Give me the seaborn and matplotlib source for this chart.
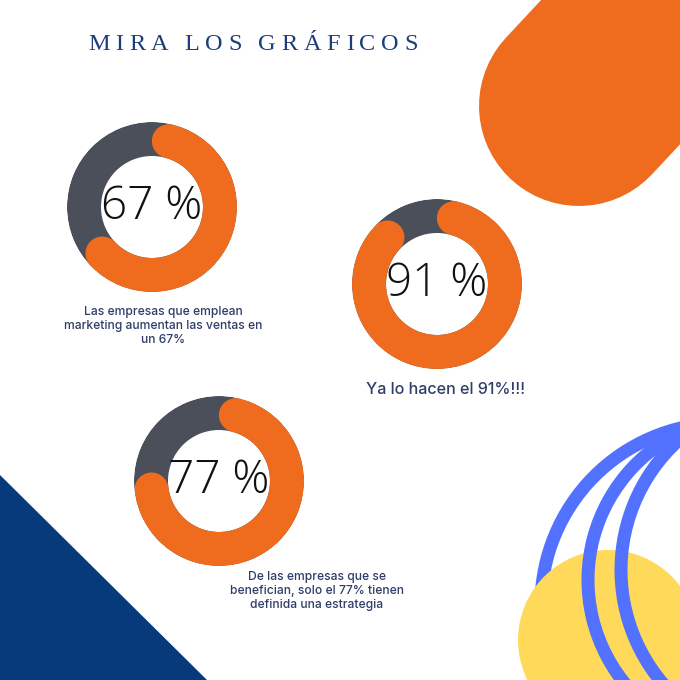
import numpy as np
import pandas as pd
import seaborn as sns
import matplotlib.pyplot as plt
from matplotlib.patches import Polygon, Circle, Arc

sns.set_style('white')
plt.rcParams['font.family'] = ['Open Sans', 'DejaVu Sans']

# data
title = 'MIRA LOS GRÁFICOS'
percentages = [67, 91, 77]
center_labels = ['67 %', '91 %', '77 %']
captions = [
    'Las empresas que emplean\nmarketing aumentan las ventas en\nun 67%',
    'Ya lo hacen el 91%!!!',
    'De las empresas que se\nbenefician, solo el 77% tienen\ndefinida una estrategia',
]

# layout (pixels on the 680x680 canvas)
W = 680
donut_centers = [(152, 207), (437, 284), (219, 481)]
caption_pos = [(163, 326), (446, 390), (317, 591)]
caption_size = [8.7, 11.6, 8.7]
R_OUT, R_IN = 85, 51
TITLE_X0, TITLE_X1, TITLE_Y = 88, 418, 44

ORANGE = '#EF6C1E'
GREY = '#4A4F5A'
NAVY = '#1D3D7C'
TEXT = '#2F3D68'
TRI = '#063A7A'
YELLOW = '#FFDA5A'
BLUE = '#5271FF'

PT = 72 / 100  # px -> points at dpi 100

fig = plt.figure(figsize=(6.8, 6.8), dpi=100)
bg = fig.add_axes([0, 0, 1, 1])
bg.set_xlim(0, W)
bg.set_ylim(W, 0)
bg.set_axis_off()

# decorations
bg.add_patch(Polygon([(0, 475), (0, W), (207, W)], closed=True, color=TRI, lw=0, zorder=1))
ang = np.radians(47)
bg.plot([579, 579 + 320 * np.cos(ang)], [106, 106 - 320 * np.sin(ang)],
        color=ORANGE, lw=200 * PT, solid_capstyle='round', zorder=1)
bg.add_patch(Arc((723, 605), 2 * 182, 2 * 182, theta1=178, theta2=266, color=BLUE, lw=13 * PT, zorder=2))
bg.add_patch(Circle((608, 640), 90, color=YELLOW, lw=0, zorder=3))
bg.add_patch(Arc((752, 580), 2 * 164, 2 * 164, theta1=138, theta2=252, color=BLUE, lw=13 * PT, zorder=4))
bg.add_patch(Arc((796, 570), 2 * 175, 2 * 175, theta1=133, theta2=238, color=BLUE, lw=13 * PT, zorder=4))

# letter-spaced title
renderer = fig.canvas.get_renderer()
title_kw = dict(fontsize=17.5, color=NAVY, family=['Liberation Serif', 'DejaVu Serif'])
widths = []
for ch in title:
    t = bg.text(0, 0, ch if ch != ' ' else 'I', **title_kw)
    widths.append(t.get_window_extent(renderer).width * (0.6 if ch == ' ' else 1))
    t.remove()
track = (TITLE_X1 - TITLE_X0 - sum(widths)) / (len(title) - 1)
x = TITLE_X0
for ch, w in zip(title, widths):
    if ch != ' ':
        bg.text(x, TITLE_Y, ch, ha='left', va='center', **title_kw)
    x += w + track

# donuts
ring_w = R_OUT - R_IN
r_mid = (R_OUT + R_IN) / 2
delta = (ring_w / 2) / r_mid
for pct, label, (cx, cy) in zip(percentages, center_labels, donut_centers):
    ax = fig.add_axes([(cx - R_OUT) / W, 1 - (cy + R_OUT) / W, 2 * R_OUT / W, 2 * R_OUT / W],
                      projection='polar')
    ax.set_theta_zero_location('N')
    ax.set_theta_direction(-1)
    ax.set_ylim(0, R_OUT)
    ax.set_axis_off()
    ax.bar(0, ring_w, width=2 * np.pi, bottom=R_IN, color=GREY, lw=0)
    end = pct / 100 * 2 * np.pi
    arc = pd.DataFrame({'theta': np.linspace(delta, end - delta, 200), 'r': r_mid})
    sns.lineplot(data=arc, x='theta', y='r', ax=ax, color=ORANGE, lw=ring_w * PT,
                 sort=False, solid_capstyle='round')
    ax.set_xlabel('')
    ax.set_ylabel('')
    ax.text(0, 0, label, ha='center', va='center', fontsize=33, fontweight='light', color='#111111')

for cap, (x, y), fs in zip(captions, caption_pos, caption_size):
    bg.text(x, y, cap, ha='center', va='center', fontsize=fs, color=TEXT,
            family=['Inter', 'DejaVu Sans'], fontweight='medium', linespacing=1.2)

fig.savefig('out.png', dpi=100)
